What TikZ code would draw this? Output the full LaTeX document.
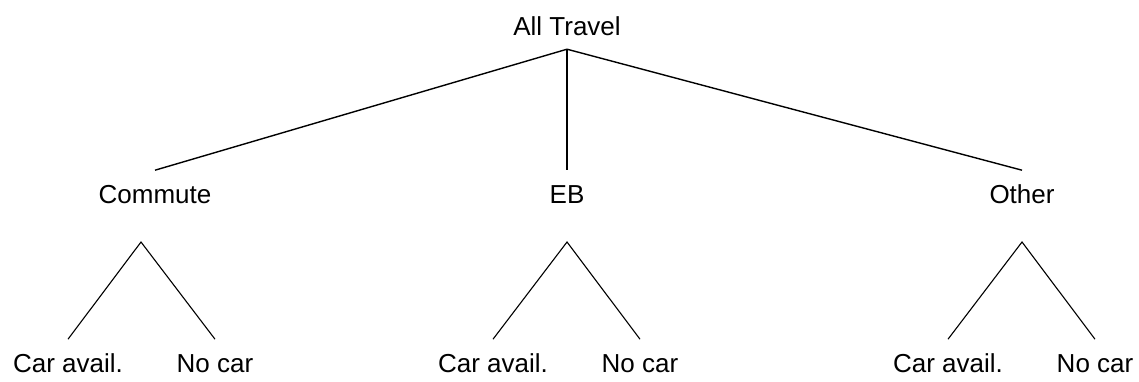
\documentclass[tikz,border=0pt]{standalone}
\usepackage{fontspec}
\setmainfont{Liberation Sans}
\usetikzlibrary{positioning}

\begin{document}
\begin{tikzpicture}[x=1pt, y=-1pt,
	t/.style={anchor=base, inner xsep=0pt, inner ysep=14pt, text height=18.6pt, text depth=0pt, font=\fontsize{26}{30}\selectfont},
	top/.style={line width=1.4pt},
	sub/.style={line width=1.1pt}]
		\useasboundingbox (0,0) rectangle (1139,381);

		\node[t] (all) at (567,35) {All Travel};

		\node[t] (commute) at (155,203) {Commute};
		\node[t] (eb) at (567,203) {EB};
		\node[t] (other) at (1022,203) {Other};

		\coordinate (commute_fork) at (141,242);
		\coordinate (eb_fork) at (567,242);
		\coordinate (other_fork) at (1022,242);

		\node[t] (commute_car) at (68,372) {Car avail.};
		\node[t] (commute_nocar) at (215,372) {No car};
		\node[t] (eb_car) at (493,372) {Car avail.};
		\node[t] (eb_nocar) at (640,372) {No car};
		\node[t] (other_car) at (948,372) {Car avail.};
		\node[t] (other_nocar) at (1095,372) {No car};

		\draw[top] (all.south) -- (commute.north);
		\draw[top] (all.south) -- (eb.north);
		\draw[top] (all.south) -- (other.north);

		\draw[sub] (commute_car.north) -- (commute_fork) -- (commute_nocar.north);
		\draw[sub] (eb_car.north) -- (eb_fork) -- (eb_nocar.north);
		\draw[sub] (other_car.north) -- (other_fork) -- (other_nocar.north);
	\end{tikzpicture}
\end{document}
